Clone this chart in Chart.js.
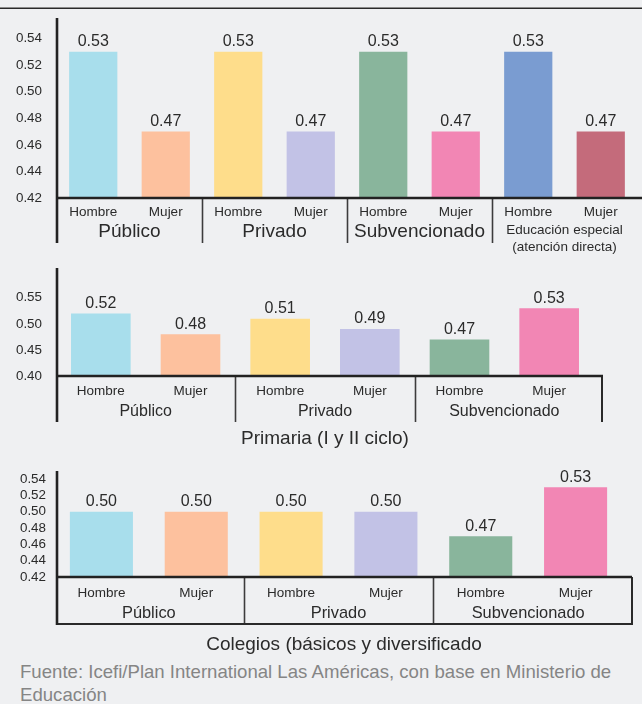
<!DOCTYPE html>
<html>
<head>
<meta charset="utf-8">
<script src="https://cdn.jsdelivr.net/npm/chart.js@4.4.0/dist/chart.umd.min.js"></script>
<style>
  html, body { margin: 0; padding: 0; background: #eff0f2; }
  body { width: 642px; height: 704px; position: relative; overflow: hidden;
         font-family: "Liberation Sans", Arial, sans-serif; }
  .rule-light { position: absolute; left: 0; top: 7px; width: 642px; height: 1px; background: #8c8c8c; }
  .rule-dark  { position: absolute; left: 0; top: 8px; width: 642px; height: 1px; background: #2a2a2a; }
  canvas { position: absolute; left: 0; }
  .panel-title { position: absolute; font-size: 19px; color: #2b2b2b; white-space: nowrap;
                 transform: translate(-50%, -50%); line-height: 1; }
  .source { position: absolute; left: 20px; top: 660px; font-size: 18.6px; line-height: 23px;
            color: #858585; white-space: nowrap; }
</style>
</head>
<body>
<div class="rule-light"></div>
<div class="rule-dark"></div>

<canvas id="chartTotal" width="642" height="258" style="top:0px"></canvas>
<canvas id="chartPrimaria" width="642" height="197" style="top:258px"></canvas>
<div class="panel-title" id="titlePrimaria" style="left:325px; top:437px"></div>
<canvas id="chartColegios" width="642" height="200" style="top:455px"></canvas>
<div class="panel-title" id="titleColegios" style="left:344px; top:643px"></div>
<div class="source" id="source"></div>

<script>
// ---- data ----
const subCategories = ['Hombre', 'Mujer'];
const sectorsTotal = ['Público', 'Privado', 'Subvencionado', ['Educación especial', '(atención directa)']];
const sectors = ['Público', 'Privado', 'Subvencionado'];

const totalValues    = [0.53, 0.47, 0.53, 0.47, 0.53, 0.47, 0.53, 0.47];
const primariaValues = [0.52, 0.48, 0.51, 0.49, 0.47, 0.53];
const colegiosValues = [0.50, 0.50, 0.50, 0.50, 0.47, 0.53];

const totalTicks    = [0.42, 0.44, 0.46, 0.48, 0.50, 0.52, 0.54];
const primariaTicks = [0.40, 0.45, 0.50, 0.55];
const colegiosTicks = [0.42, 0.44, 0.46, 0.48, 0.50, 0.52, 0.54];

const primariaTitle = 'Primaria (I y II ciclo)';
const colegiosTitle = 'Colegios (básicos y diversificado';
const sourceLines = ['Fuente: Icefi/Plan International Las Américas, con base en Ministerio de', 'Educación'];

// ---- styling ----
const FONT = '"Liberation Sans", Arial, sans-serif';
const barColors = ['#a8deec', '#fdc19e', '#fedd8b', '#c2c2e6', '#89b59c', '#f286b4', '#7a9cd1', '#c46b7b'];

document.getElementById('titlePrimaria').textContent = primariaTitle;
document.getElementById('titleColegios').textContent = colegiosTitle;
document.getElementById('source').innerHTML = sourceLines.map(s => s.replace(/&/g, '&amp;')).join('<br>');

// axis lines, group separators and sector names under the sub-categories
const framePlugin = {
  id: 'frame',
  afterDraw(chart, args, o) {
    const ctx = chart.ctx;
    const xs = chart.scales.x;
    const base = chart.chartArea.bottom;
    const px = i => xs.getPixelForValue(i);
    const line = (x1, y1, x2, y2, w, c) => {
      ctx.beginPath(); ctx.lineWidth = w; ctx.strokeStyle = c;
      ctx.moveTo(x1, y1); ctx.lineTo(x2, y2); ctx.stroke();
    };
    ctx.save();
    // group separators
    for (let g = 1; g < o.groups.length; g++) {
      const sx = Math.round((px(2 * g - 1) + px(2 * g)) / 2) + 0.5;
      line(sx, base, sx, o.sepBottom, 1.6, '#3c3c3c');
    }
    if (o.rightX) line(o.rightX, base, o.rightX, o.sepBottom, 2, '#2a2a2a');
    if (o.boxBottom) line(o.axisX - 1, o.boxBottom, o.rightX + 1, o.boxBottom, 2.2, '#2a2a2a');
    // value axis and base line
    line(o.axisX, o.axisTop, o.axisX, o.axisBottom, 2.6, '#222');
    line(o.axisX, base, o.lineRight, base, 2.6, '#222');
    // sector names
    ctx.fillStyle = '#2b2b2b';
    ctx.textAlign = 'center';
    ctx.textBaseline = 'middle';
    o.groups.forEach((name, g) => {
      const cx = (px(2 * g) + px(2 * g + 1)) / 2;
      if (Array.isArray(name)) {
        ctx.font = o.multiFont + 'px ' + FONT;
        name.forEach((t, k) => ctx.fillText(t, cx, o.multiY[k]));
      } else {
        ctx.font = o.groupFont + 'px ' + FONT;
        ctx.fillText(name, cx, o.groupY);
      }
    });
    ctx.restore();
  }
};

// value printed above each bar
const valueLabelPlugin = {
  id: 'valueLabels',
  afterDatasetsDraw(chart) {
    const ctx = chart.ctx;
    const ds = chart.data.datasets[0];
    const meta = chart.getDatasetMeta(0);
    ctx.save();
    ctx.fillStyle = '#2b2b2b';
    ctx.font = '16px ' + FONT;
    ctx.textAlign = 'center';
    ctx.textBaseline = 'middle';
    meta.data.forEach((bar, i) => {
      ctx.fillText(ds.data[i].toFixed(2), bar.x, bar.y - 10);
    });
    ctx.restore();
  }
};

function makeChart(id, cfg) {
  return new Chart(document.getElementById(id), {
    type: 'bar',
    data: {
      labels: cfg.groups.flatMap(() => subCategories),
      datasets: [{
        data: cfg.values,
        backgroundColor: barColors.slice(0, cfg.values.length),
        borderWidth: 0,
        barPercentage: 0.665,
        categoryPercentage: 1
      }]
    },
    options: {
      responsive: false,
      animation: false,
      devicePixelRatio: 1,
      layout: { padding: { top: cfg.padTop, right: cfg.padRight, left: 0, bottom: 0 } },
      plugins: {
        legend: { display: false },
        tooltip: { enabled: false },
        frame: cfg.frame
      },
      scales: {
        x: {
          grid: { display: false, drawTicks: false },
          border: { display: false },
          ticks: { font: { size: 13.5, family: FONT }, color: '#2b2b2b', padding: cfg.xPad,
                   maxRotation: 0, autoSkip: false },
          afterFit(s) { s.height = cfg.xHeight; }
        },
        y: {
          min: cfg.min, max: cfg.max, bounds: 'data',
          grid: { display: false, drawTicks: false },
          border: { display: false },
          ticks: { font: { size: cfg.yFont || 13.4, family: FONT }, color: '#2b2b2b', padding: cfg.yPad,
                   autoSkip: false, callback: v => Number(v).toFixed(2) },
          afterBuildTicks(s) { s.ticks = cfg.ticks.map(v => ({ value: v })); },
          afterFit(s) { s.width = cfg.left; }
        }
      }
    },
    plugins: [framePlugin, valueLabelPlugin]
  });
}

makeChart('chartTotal', {
  groups: sectorsTotal, values: totalValues, ticks: totalTicks,
  min: 0.42, max: 0.5517,
  left: 57, padTop: 18, padRight: 5, xHeight: 60, xPad: 6, yPad: 15,
  frame: { groups: sectorsTotal, axisX: 57, axisTop: 18, axisBottom: 243, sepBottom: 243,
           lineRight: 642, groupY: 232, groupFont: 19, multiFont: 13.5, multiY: [230, 247] }
});

makeChart('chartPrimaria', {
  groups: sectors, values: primariaValues, ticks: primariaTicks,
  min: 0.40, max: 0.584,
  left: 56, padTop: 10, padRight: 48, xHeight: 79, xPad: 7, yPad: 14,
  frame: { groups: sectors, axisX: 57, axisTop: 10, axisBottom: 164, sepBottom: 164,
           lineRight: 603, rightX: 602, groupY: 154, groupFont: 16 }
});

makeChart('chartColegios', {
  groups: sectors, values: colegiosValues, ticks: colegiosTicks,
  min: 0.42, max: 0.55,
  left: 54, padTop: 16, padRight: 19, xHeight: 78, xPad: 8, yPad: 8, yFont: 13.4,
  frame: { groups: sectors, axisX: 57, axisTop: 16, axisBottom: 170, sepBottom: 169,
           lineRight: 632, rightX: 632, boxBottom: 169, groupY: 158, groupFont: 16.4 }
});
</script>
</body>
</html>
